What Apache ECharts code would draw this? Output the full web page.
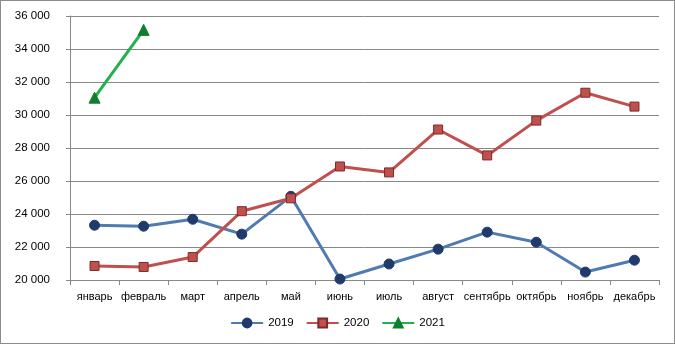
<!DOCTYPE html>
<html><head><meta charset="utf-8">
<script src="https://cdn.jsdelivr.net/npm/echarts@6/dist/echarts.min.js"></script>
<style>html,body{margin:0;padding:0;background:#fff}#c{width:675px;height:344px;box-sizing:border-box;border:1px solid #8c8c8c}</style>
</head><body><div id="c"></div>
<script>
const categories = ['январь','февраль','март','апрель','май','июнь','июль','август','сентябрь','октябрь','ноябрь','декабрь'];
const s2019 = [23320,23260,23680,22780,25070,20060,20970,21870,22900,22290,20480,21200];
const s2020 = [20850,20790,21390,24170,24950,26880,26520,29120,27550,29660,31350,30510];
const s2021 = [31050,35160,null,null,null,null,null,null,null,null,null,null];
const seriesNames = ['2019','2020','2021'];
const yMin = 20000, yMax = 36000, yStep = 2000;

const chart = echarts.init(document.getElementById('c'));
const font = 'Liberation Sans, Arial, sans-serif';
function fmt(v){ return String(v).replace(/\B(?=(\d{3})+(?!\d))/g,' '); }
chart.setOption({
  animation:false,
  textStyle:{fontFamily:font},
  grid:{left:69,right:15,top:15,bottom:63,containLabel:false},
  legend:{bottom:9,left:'center',itemWidth:32,itemHeight:11,itemGap:12,
    textStyle:{fontFamily:font,fontSize:11.5,color:'#000'},data:seriesNames},
  xAxis:{type:'category',data:categories,boundaryGap:true,
    axisLine:{lineStyle:{color:'#888',width:1}},
    axisTick:{show:true,alignWithLabel:false,length:5,lineStyle:{color:'#888'}},
    axisLabel:{color:'#000',fontSize:11,fontFamily:font,margin:11,interval:0}},
  yAxis:{type:'value',min:yMin,max:yMax,interval:yStep,
    axisLine:{show:true,lineStyle:{color:'#888'}},
    axisTick:{show:true,length:4,lineStyle:{color:'#888'}},
    splitLine:{lineStyle:{color:'#888',width:1}},
    axisLabel:{color:'#000',fontSize:11.5,fontFamily:font,margin:20,formatter:fmt}},
  series:[
    {name:'2019',type:'line',data:s2019,symbol:'circle',symbolSize:10,
      lineStyle:{color:'#4f7bb2',width:3},itemStyle:{color:'#1f3a6b',borderColor:'#1f3a6b',borderWidth:1}},
    {name:'2020',type:'line',data:s2020,symbol:'rect',symbolSize:9,
      lineStyle:{color:'#c0504d',width:3},itemStyle:{color:'#c0504d',borderColor:'#7a2b29',borderWidth:1}},
    {name:'2021',type:'line',data:s2021,symbol:'triangle',symbolSize:11,
      lineStyle:{color:'#22b14c',width:3},itemStyle:{color:'#0f7f2d',borderColor:'#0f7f2d',borderWidth:1}}
  ]
});
</script></body></html>
